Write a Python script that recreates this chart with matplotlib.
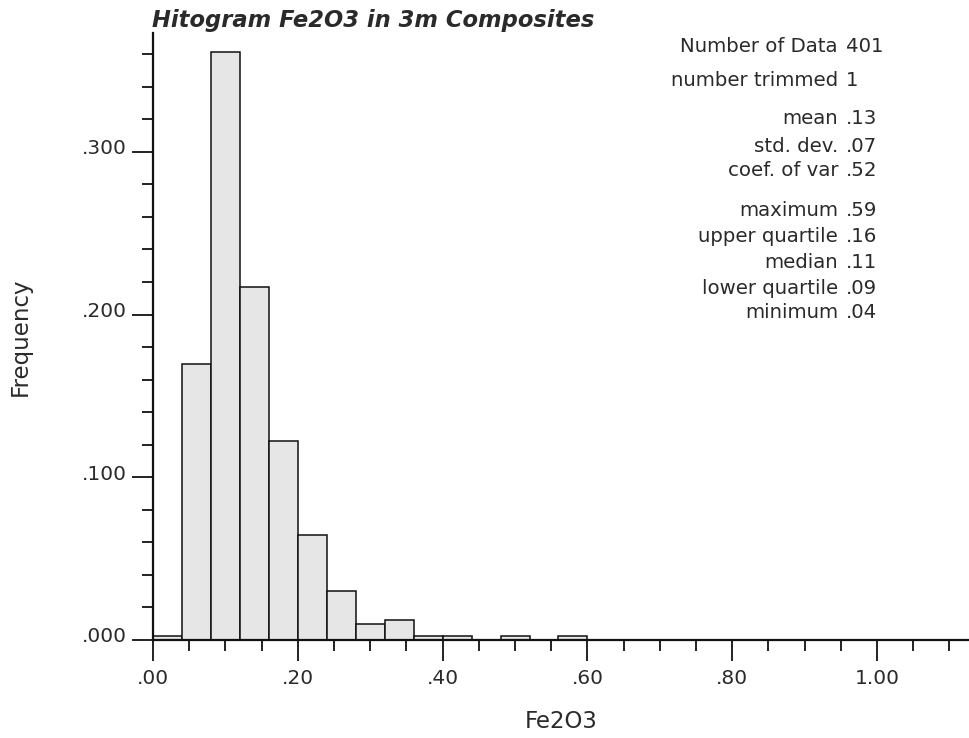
"""Histogram of Fe2O3 in 3m composites, GSLIB-style layout."""

import matplotlib

matplotlib.use("Agg")

import matplotlib.pyplot as plt
from matplotlib.ticker import FixedLocator, MultipleLocator
from matplotlib.transforms import ScaledTranslation

plt.rcParams["font.family"] = ["DejaVu Sans"]

# bin left edges (width 0.04) and relative frequencies
BIN_LEFT = [0.00, 0.04, 0.08, 0.12, 0.16, 0.20, 0.24, 0.28, 0.32,
            0.36, 0.40, 0.44, 0.48, 0.52, 0.56]
FREQ = [0.0025, 0.1696, 0.3616, 0.2170, 0.1222, 0.0648, 0.0299, 0.0100,
        0.0125, 0.0025, 0.0025, 0.0, 0.0025, 0.0, 0.0025]
BIN_WIDTH = 0.04

X_TICKS = [0.0, 0.2, 0.4, 0.6, 0.8, 1.0]
X_TICK_LABELS = [".00", ".20", ".40", ".60", ".80", "1.00"]
Y_TICKS = [0.0, 0.1, 0.2, 0.3]
Y_TICK_LABELS = [".000", ".100", ".200", ".300"]

STAT_LABELS = ["Number of Data", "number trimmed", "mean", "std. dev.",
               "coef. of var", "maximum", "upper quartile", "median",
               "lower quartile", "minimum"]
STAT_VALUES = ["401", "1", ".13", ".07", ".52", ".59", ".16", ".11",
               ".09", ".04"]
STAT_ROWS_PX = [46, 80, 118, 146, 171, 210, 236, 262, 288, 313]

TEXT_COLOR = "#2a2a2a"
W, H = 969, 738

fig = plt.figure(figsize=(W / 100, H / 100), dpi=100)
ax = fig.add_axes([153 / W, 98 / H, (W - 153) / W, 607 / H])

ax.bar(BIN_LEFT, FREQ, width=BIN_WIDTH, align="edge",
       color="#e6e6e6", edgecolor="#111111", linewidth=1.1, zorder=2)

ax.set_xlim(0, 1.127)
ax.set_ylim(0, 0.373)

for side in ("top", "right"):
    ax.spines[side].set_visible(False)
for side in ("left", "bottom"):
    ax.spines[side].set_linewidth(1.6)
    ax.spines[side].set_color("#111111")

ax.xaxis.set_major_locator(FixedLocator(X_TICKS))
ax.set_xticklabels(X_TICK_LABELS)
ax.xaxis.set_minor_locator(MultipleLocator(0.05))
ax.yaxis.set_major_locator(FixedLocator(Y_TICKS))
ax.set_yticklabels(Y_TICK_LABELS)
ax.yaxis.set_minor_locator(MultipleLocator(0.02))

ax.tick_params(axis="both", which="major", direction="out", length=15,
               width=1.3, color="#111111", labelsize=14.5,
               labelcolor=TEXT_COLOR)
ax.tick_params(axis="both", which="minor", direction="out", length=8,
               width=1.3, color="#111111")
ax.tick_params(axis="x", which="major", pad=6)
ax.tick_params(axis="y", which="major", pad=4)
# y tick labels sit a few pixels above their ticks
lift = ScaledTranslation(0, 5 / 100, fig.dpi_scale_trans)
for lbl in ax.get_yticklabels():
    lbl.set_transform(lbl.get_transform() + lift)

ax.set_xlabel("Fe2O3", fontsize=16.5, color=TEXT_COLOR, labelpad=16)
ax.set_ylabel("Frequency", fontsize=16.5, color=TEXT_COLOR, labelpad=36)

fig.text(152 / W, 1 - 20 / H, "Hitogram Fe2O3 in 3m Composites",
         fontsize=16.3, fontweight="bold", fontstyle="italic",
         color=TEXT_COLOR, ha="left", va="center")

for label, value, ypx in zip(STAT_LABELS, STAT_VALUES, STAT_ROWS_PX):
    fig.text(838 / W, 1 - ypx / H, label, fontsize=14.2, color=TEXT_COLOR,
             ha="right", va="center")
    fig.text(846 / W, 1 - ypx / H, value, fontsize=14.2, color=TEXT_COLOR,
             ha="left", va="center")

fig.savefig("out.png", dpi=100, facecolor="white")
